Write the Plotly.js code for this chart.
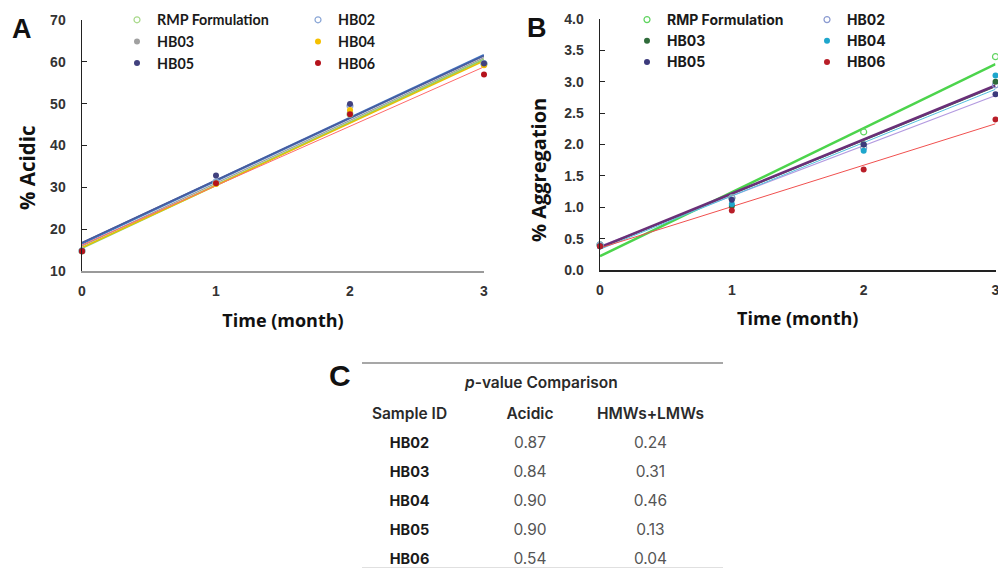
<!DOCTYPE html>
<html>
<head>
<meta charset="utf-8">
<script src="https://cdn.plot.ly/plotly-3.0.1.min.js"></script>
<style>html,body{margin:0;padding:0;background:#fff;}#chart{width:998px;height:569px;}</style>
</head>
<body>
<div id="chart"></div>
<script>
// ---------- DATA ----------
const months = [0, 1, 2, 3];
const seriesNames = ['RMP Formulation', 'HB02', 'HB03', 'HB04', 'HB05', 'HB06'];

// Panel A: % Acidic
const acidicRMP  = [14.8, 31.0, 47.5, 59.5];
const acidicHB02 = [14.8, 31.3, 49.5, 59.6];
const acidicHB03 = [14.8, 31.0, 48.0, 59.3];
const acidicHB04 = [14.7, 30.8, 48.5, 59.2];
const acidicHB05 = [14.8, 32.8, 49.9, 59.6];
const acidicHB06 = [14.7, 31.0, 47.5, 57.0];
// linear trend values read at month 0 and month 3
const acidicTrendStart = [15.5, 16.6, 16.0, 15.6, 16.8, 16.2];
const acidicTrendEnd   = [60.6, 61.6, 61.0, 60.2, 61.5, 58.8];

// Panel B: % Aggregation
const aggRMP  = [0.40, 1.15, 2.20, 3.40];
const aggHB02 = [0.40, 1.15, 1.95, 2.95];
const aggHB03 = [0.38, 1.02, 2.00, 3.00];
const aggHB04 = [0.38, 1.05, 1.90, 3.10];
const aggHB05 = [0.38, 1.12, 2.00, 2.80];
const aggHB06 = [0.38, 0.95, 1.60, 2.40];
const aggTrendStart = [0.22, 0.38, 0.35, 0.33, 0.36, 0.35];
const aggTrendEnd   = [3.28, 2.78, 2.92, 2.88, 2.94, 2.33];

// Panel C: p-value table
const tableTitle = '<i>p</i>-value Comparison';
const tableHeaders = ['Sample ID', 'Acidic', 'HMWs+LMWs'];
const sampleIds = ['HB02', 'HB03', 'HB04', 'HB05', 'HB06'];
const pAcidic = [0.87, 0.84, 0.90, 0.90, 0.54];
const pAggregation = [0.24, 0.31, 0.46, 0.13, 0.04];

// ---------- STYLES ----------
const acidicData = [acidicRMP, acidicHB02, acidicHB03, acidicHB04, acidicHB05, acidicHB06];
const aggData = [aggRMP, aggHB02, aggHB03, aggHB04, aggHB05, aggHB06];

const markerA = [
  {color: '#a8d98a', symbol: 'circle-open', line: {width: 1.2}},
  {color: '#8aa6d6', symbol: 'circle-open', line: {width: 1.2}},
  {color: '#a0a0a0', symbol: 'circle'},
  {color: '#f5c000', symbol: 'circle'},
  {color: '#41417e', symbol: 'circle'},
  {color: '#b5121b', symbol: 'circle'}
];
const lineA = [
  {color: '#8fd16a', width: 2},
  {color: '#3f73c0', width: 2.5},
  {color: '#9a9a9a', width: 1.2},
  {color: '#e8c000', width: 1.5},
  {color: '#4a5a9a', width: 1.5},
  {color: '#ff6a6a', width: 1}
];
const markerB = [
  {color: '#5fd45f', symbol: 'circle-open', line: {width: 1.2}},
  {color: '#8a9ad0', symbol: 'circle-open', line: {width: 1.2}},
  {color: '#2f6b3a', symbol: 'circle'},
  {color: '#1ea6cc', symbol: 'circle'},
  {color: '#3c3a7c', symbol: 'circle'},
  {color: '#b81e28', symbol: 'circle'}
];
const lineB = [
  {color: '#4cd44c', width: 2.5},
  {color: '#b39ae0', width: 1.2},
  {color: '#3b7a48', width: 1},
  {color: '#52c0de', width: 1},
  {color: '#6a2f78', width: 2.5},
  {color: '#f0504f', width: 1}
];

// legend assignment: column 1 = RMP, HB03, HB05 ; column 2 = HB02, HB04, HB06
const legendColA = ['legend', 'legend2', 'legend', 'legend2', 'legend', 'legend2'];
const legendColB = ['legend3', 'legend4', 'legend3', 'legend4', 'legend3', 'legend4'];

const traces = [];
// trend lines first
seriesNames.forEach((name, i) => {
  traces.push({
    type: 'scatter', mode: 'lines', x: [months[0], months[months.length - 1]],
    y: [acidicTrendStart[i], acidicTrendEnd[i]], xaxis: 'x', yaxis: 'y',
    line: lineA[i], showlegend: false, hoverinfo: 'skip', cliponaxis: false
  });
  traces.push({
    type: 'scatter', mode: 'lines', x: [months[0], months[months.length - 1]],
    y: [aggTrendStart[i], aggTrendEnd[i]], xaxis: 'x2', yaxis: 'y2',
    line: lineB[i], showlegend: false, hoverinfo: 'skip', cliponaxis: false
  });
});
// markers
seriesNames.forEach((name, i) => {
  traces.push({
    type: 'scatter', mode: 'markers', name: name, x: months, y: acidicData[i],
    xaxis: 'x', yaxis: 'y', legend: legendColA[i], legendgroup: 'a' + i,
    marker: Object.assign({size: 6}, markerA[i]), cliponaxis: false
  });
  traces.push({
    type: 'scatter', mode: 'markers', name: name, x: months, y: aggData[i],
    xaxis: 'x2', yaxis: 'y2', legend: legendColB[i], legendgroup: 'b' + i,
    marker: Object.assign({size: 6}, markerB[i]), cliponaxis: false
  });
});

// table (panel C) drawn as text cells on a hidden category grid
const HDR = 'header';
const tableFont = 'Inter, Roboto, sans-serif';
traces.push({
  type: 'scatter', mode: 'text', xaxis: 'x3', yaxis: 'y3', showlegend: false, hoverinfo: 'skip',
  x: tableHeaders, y: tableHeaders.map(() => HDR), text: tableHeaders,
  textposition: 'middle center', cliponaxis: false,
  textfont: {family: tableFont, size: 15.5, color: '#2a2a2a', weight: 600}
});
traces.push({
  type: 'scatter', mode: 'text', xaxis: 'x3', yaxis: 'y3', showlegend: false, hoverinfo: 'skip',
  x: sampleIds.map(() => tableHeaders[0]), y: sampleIds, text: sampleIds,
  textposition: 'middle center', cliponaxis: false,
  textfont: {family: tableFont, size: 14.5, color: '#1a1a1a', weight: 'bold'}
});
traces.push({
  type: 'scatter', mode: 'text', xaxis: 'x3', yaxis: 'y3', showlegend: false, hoverinfo: 'skip',
  x: sampleIds.map(() => tableHeaders[1]), y: sampleIds, text: pAcidic.map(v => v.toFixed(2)),
  textposition: 'middle center', cliponaxis: false,
  textfont: {family: tableFont, size: 15.5, color: '#555'}
});
traces.push({
  type: 'scatter', mode: 'text', xaxis: 'x3', yaxis: 'y3', showlegend: false, hoverinfo: 'skip',
  x: sampleIds.map(() => tableHeaders[2]), y: sampleIds, text: pAggregation.map(v => v.toFixed(2)),
  textposition: 'middle center', cliponaxis: false,
  textfont: {family: tableFont, size: 15.5, color: '#555'}
});

const tickFont = {family: 'Liberation Sans, Arial, sans-serif', size: 14, color: '#333', weight: 'bold'};
function tfont(size) { return {family: 'Open Sans, Arial, sans-serif', size: size, color: '#111', weight: 'bold'}; }

function legendCfg(xpx, ypx, family, size) {
  return {
    x: xpx / 998, y: 1 - ypx / 569, xanchor: 'left', yanchor: 'top',
    bgcolor: 'rgba(0,0,0,0)', borderwidth: 0, tracegroupgap: 0,
    font: {family: family, size: size, color: '#1a1a1a', weight: 'bold'},
    itemclick: false, itemdoubleclick: false
  };
}

const layout = {
  width: 998, height: 569,
  margin: {l: 0, r: 0, t: 0, b: 0},
  paper_bgcolor: '#fff', plot_bgcolor: 'rgba(0,0,0,0)',
  showlegend: true,
  xaxis: {
    domain: [82 / 998, 484 / 998], anchor: 'y', range: [0, 3], tickvals: months,
    showgrid: false, zeroline: false, showline: true, linecolor: '#9a9a9a', linewidth: 1.5,
    ticks: '', tickfont: tickFont, ticklabelstandoff: 7, ticklabeloverflow: 'allow',
    title: {text: 'Time (month)', font: tfont(18), standoff: 16}
  },
  yaxis: {
    domain: [1 - 271 / 569, 1 - 20 / 569], anchor: 'x', range: [10, 70], dtick: 10,
    showgrid: false, zeroline: false, showline: true, linecolor: '#222', linewidth: 1.5,
    ticks: 'inside', ticklen: 5, tickcolor: '#222', tickfont: tickFont, ticklabelstandoff: 12
  },
  xaxis2: {
    domain: [600 / 998, 0.9975], anchor: 'y2', range: [0, 3], tickvals: months,
    showgrid: false, zeroline: false, showline: true, linecolor: '#222', linewidth: 1.5,
    ticks: '', tickfont: tickFont, ticklabelstandoff: 7, ticklabeloverflow: 'allow',
    title: {text: 'Time (month)', font: tfont(18), standoff: 15}
  },
  yaxis2: {
    domain: [1 - 270 / 569, 1 - 19 / 569], anchor: 'x2', range: [0, 4], dtick: 0.5, tickformat: '.1f',
    showgrid: false, zeroline: false, showline: true, linecolor: '#222', linewidth: 1.5,
    ticks: 'inside', ticklen: 5, tickcolor: '#222', tickfont: tickFont, ticklabelstandoff: 12
  },
  xaxis3: {
    domain: [349.25 / 998, 710.75 / 998], anchor: 'y3', type: 'category',
    categoryorder: 'array', categoryarray: tableHeaders, range: [-0.5, 2.5], visible: false
  },
  yaxis3: {
    domain: [0, 1 - 400.5 / 569], anchor: 'x3', type: 'category',
    categoryorder: 'array', categoryarray: [HDR].concat(sampleIds), range: [5.31, -0.5], visible: false
  },
  legend: legendCfg(117, 4, 'Lato, sans-serif', 14.3),
  legend2: legendCfg(298, 4, 'Lato, sans-serif', 14.3),
  legend3: legendCfg(627, 4, 'Inter, sans-serif', 14),
  legend4: legendCfg(807, 4, 'Inter, sans-serif', 14),
  annotations: [
    {text: '% Acidic', x: 27 / 998, y: 1 - 168 / 569, xref: 'paper', yref: 'paper', showarrow: false, textangle: -90,
     xanchor: 'center', yanchor: 'middle', font: tfont(20.5)},
    {text: '% Aggregation', x: 538 / 998, y: 1 - 170 / 569, xref: 'paper', yref: 'paper', showarrow: false, textangle: -90,
     xanchor: 'center', yanchor: 'middle', font: tfont(20)},
    {text: '<b>A</b>', x: 22 / 998, y: 1 - 29 / 569, xref: 'paper', yref: 'paper', showarrow: false,
     xanchor: 'center', yanchor: 'middle', font: {family: 'Liberation Sans, Arial', size: 27, color: '#111'}},
    {text: '<b>B</b>', x: 537 / 998, y: 1 - 28 / 569, xref: 'paper', yref: 'paper', showarrow: false,
     xanchor: 'center', yanchor: 'middle', font: {family: 'Liberation Sans, Arial', size: 27, color: '#111'}},
    {text: '<b>C</b>', x: 340 / 998, y: 1 - 375 / 569, xref: 'paper', yref: 'paper', showarrow: false,
     xanchor: 'center', yanchor: 'middle', font: {family: 'Liberation Sans, Arial', size: 30, color: '#111'}},
    {text: tableTitle, x: 541 / 998, y: 1 - 382 / 569, xref: 'paper', yref: 'paper', showarrow: false,
     xanchor: 'center', yanchor: 'middle', font: {family: tableFont, size: 15.5, color: '#2a2a2a', weight: 600}}
  ],
  shapes: [
    {type: 'line', xref: 'paper', yref: 'paper', x0: 362 / 998, x1: 723 / 998, y0: 1 - 363 / 569, y1: 1 - 363 / 569,
     line: {color: '#8a8a8a', width: 1.5}},
    {type: 'line', xref: 'paper', yref: 'paper', x0: 362 / 998, x1: 723 / 998, y0: 1 - 567.5 / 569, y1: 1 - 567.5 / 569,
     line: {color: '#e0e0e0', width: 1}}
  ]
};

Plotly.newPlot('chart', traces, layout, {staticPlot: true, displayModeBar: false});
</script>
</body>
</html>
